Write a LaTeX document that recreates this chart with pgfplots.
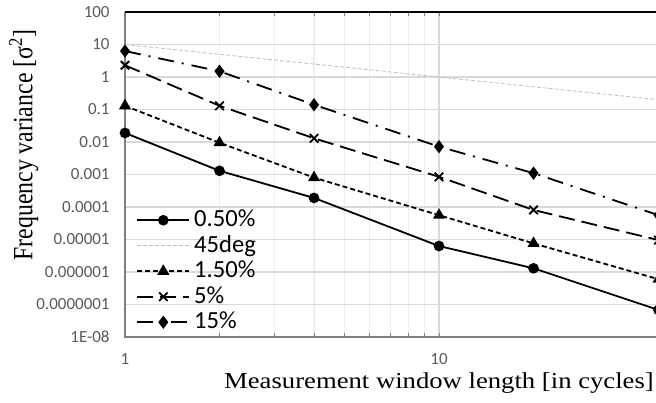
\documentclass[border=0pt]{standalone}
\usepackage{pgfplots}
\pgfplotsset{compat=1.18}
\usepackage{fontspec}
\setmainfont{Liberation Serif}
\newfontfamily\calibri{Carlito}
\definecolor{ticktext}{HTML}{595959}
\definecolor{gridc}{HTML}{D9D9D9}
\definecolor{mgridc}{HTML}{EDEDED}
\definecolor{axc}{HTML}{808080}
\definecolor{refc}{HTML}{BFBFBF}

\begin{document}
\begin{tikzpicture}
\begin{axis}[
    scale only axis,
    width=314pt, height=162.5pt,
    xmode=log, ymode=log,
    xmin=1, xmax=100,
    ymin=1e-8, ymax=100,
    xtick={1,10},
    xticklabels={1,10},
    ytick={1e-8,1e-7,1e-6,1e-5,1e-4,1e-3,1e-2,1e-1,1,10,100},
    yticklabels={1E-08,0.0000001,0.000001,0.00001,0.0001,0.001,0.01,0.1,1,10,100},
    yminorticks=false,
    ymajorgrids, xmajorgrids, xminorgrids,
    major grid style={gridc, line width=0.8pt},
    minor grid style={mgridc, line width=0.6pt},
    axis line style={draw=none},
    tick align=inside,
    major tick length=2pt, minor tick length=2pt,
    xtick style={axc, line width=0.5pt},
    ytick style={draw=none},
    tick label style={font=\calibri\fontsize{8.5}{10}\selectfont, text=ticktext},
    xticklabel style={anchor=center, yshift=-11pt},
    yticklabel style={anchor=east, inner sep=0pt, xshift=-7.5pt},
    xlabel={\scalebox{1.17}[1]{Measurement window length [in cycles]}},
    ylabel={\scalebox{1}[1.17]{Frequency variance [σ\textsuperscript{2}]}},
    every axis x label/.style={at={(axis description cs:0.5,0)}, anchor=center, yshift=-23pt,
        font=\fontsize{11.4}{13}\selectfont},
    every axis y label/.style={at={(axis description cs:-0.161,0.591)}, rotate=90, anchor=center,
        font=\fontsize{11.9}{13}\selectfont},
    clip=false,
    legend cell align=left,
    legend style={at={(axis description cs:0.008,0.412)}, anchor=north west,
        draw=none, fill=none, row sep=0pt, column sep=1.5pt,
        font=\calibri\fontsize{12.3}{12.75}\selectfont,
        nodes={inner sep=0.5pt, text height=9pt, text depth=2.75pt}},
    legend image code/.code={\draw[mark repeat=2,mark phase=2] plot coordinates {(0pt,0pt) (13pt,0pt) (26pt,0pt)};},
]
\draw[axc, line width=1pt] (rel axis cs:0,1) -- (rel axis cs:0,0) -- (rel axis cs:1,0);
\draw[black, line width=1pt] (rel axis cs:0,1) -- (rel axis cs:1,1);

\addplot[black, line width=0.9pt, mark=*, mark size=2.2pt] coordinates {
(1,0.019) (2,0.0013) (4,0.00019) (10,6.3e-6) (20,1.3e-6) (50,6.8e-8)};
\addlegendentry{0.50\%}
\addplot[refc, line width=0.4pt, dash pattern=on 2pt off 1pt] coordinates {
(1,10) (100,0.1)};
\addlegendentry{45deg}
\addplot[black, line width=0.9pt, dash pattern=on 2.5pt off 1.5pt, mark=triangle*, mark size=2.6pt, mark options={solid}] coordinates {
(1,0.13) (2,0.0095) (4,0.0008) (10,5.6e-5) (20,7.6e-6) (50,6e-7)};
\addlegendentry{1.50\%}
\addplot[black, line width=0.9pt, dash pattern=on 8pt off 3.5pt, mark=x, mark size=3pt, mark options={solid}] coordinates {
(1,2.3) (2,0.13) (4,0.013) (10,8.5e-4) (20,8.1e-5) (50,9.6e-6)};
\addlegendentry{5\%}
\addplot[black, line width=0.9pt, dash pattern=on 8pt off 4pt on 1pt off 4pt, mark=diamond*, mark size=2.6pt, mark options={solid}] coordinates {
(1,6.3) (2,1.5) (4,0.14) (10,0.0072) (20,0.0011) (50,5.6e-5)};
\addlegendentry{15\%}
\end{axis}
\pgfresetboundingbox
\path[use as bounding box] (-62.5pt,-32.5pt) rectangle (265.5pt,168.5pt);
\end{tikzpicture}
\end{document}
